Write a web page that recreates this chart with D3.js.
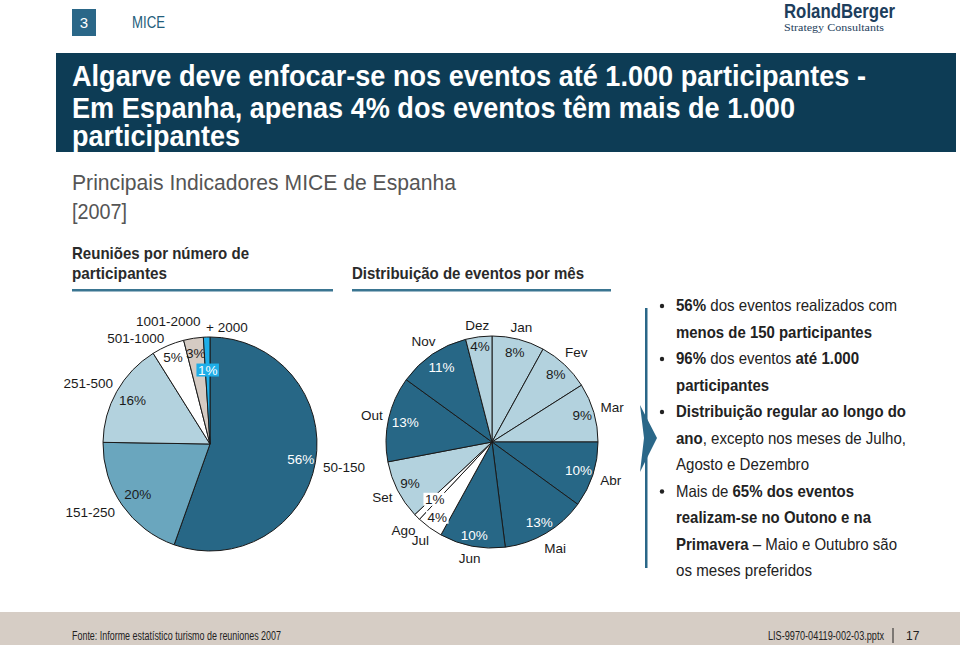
<!DOCTYPE html>
<html>
<head>
<meta charset="utf-8">
<script src="https://cdn.jsdelivr.net/npm/d3@7"></script>
<style>
  html, body { margin: 0; padding: 0; background: #fff; }
  svg { display: block; }
  text { font-family: "Liberation Sans Narrow", "Arial Narrow", "Liberation Sans", Arial, sans-serif; }
  .lbl { font-family: "Liberation Sans", Arial, sans-serif; font-size: 13.5px; fill: #1a1a1a; }
</style>
</head>
<body>
<svg id="chart" width="960" height="645"></svg>
<script>
// ---------- DATA ----------
const sizeCategories = ["50-150", "151-250", "251-500", "501-1000", "1001-2000", "+ 2000"];
const sizeShares = [56, 20, 16, 5, 3, 1];
const sizeLabels = ["56%", "20%", "16%", "5%", "3%", "1%"];

const months = ["Jan", "Fev", "Mar", "Abr", "Mai", "Jun", "Jul", "Ago", "Set", "Out", "Nov", "Dez"];
const monthShares = [8, 8, 9, 10, 13, 10, 4, 1, 9, 13, 11, 4];
const monthLabels = ["8%", "8%", "9%", "10%", "13%", "10%", "4%", "1%", "9%", "13%", "11%", "4%"];

const bullets = [
  [[["56%", true], [" dos eventos realizados com", false]], [["menos de 150 participantes", true]]],
  [[["96%", true], [" dos eventos ", false], ["até 1.000", true]], [["participantes", true]]],
  [[["Distribuição regular ao longo do", true]], [["ano", true], [", excepto nos meses de Julho,", false]], [["Agosto e Dezembro", false]]],
  [[["Mais de ", false], ["65% dos eventos", true]], [["realizam-se no Outono e na", true]], [["Primavera", true], [" – Maio e Outubro são", false]], [["os meses preferidos", false]]]
];

// ---------- STYLE / LAYOUT ----------
const C = {
  navy: "#0d3c55", teal: "#276786", mid: "#6aa6be", light: "#b3d2de",
  beige: "#d5cbc3", bright: "#1eaee8", white: "#ffffff", stroke: "#1a1a1a"
};
const sizeFill = [C.teal, C.mid, C.light, C.white, C.beige, C.bright];
const sizeTextFill = ["#fff", "#1a1a1a", "#1a1a1a", "#1a1a1a", "#1a1a1a", "#fff"];
const monthFill = [C.light, C.light, C.light, C.teal, C.teal, C.teal, C.white, C.white, C.light, C.teal, C.teal, C.light];

const svg = d3.select("#chart");

// ---------- HEADER ----------
svg.append("rect").attr("x", 72).attr("y", 9).attr("width", 24).attr("height", 27).attr("fill", "#2a6788");
svg.append("text").attr("x", 84).attr("y", 28).attr("text-anchor", "middle")
  .attr("font-size", 15).attr("fill", "#fff").text("3");
svg.append("text").attr("x", 132).attr("y", 28).attr("font-size", 16).attr("fill", "#235d7b")
  .attr("textLength", 33).attr("lengthAdjust", "spacingAndGlyphs").text("MICE");

svg.append("text").attr("x", 784).attr("y", 18).attr("font-size", 20).attr("font-weight", "bold")
  .attr("fill", "#1d3e5c").attr("textLength", 111).attr("lengthAdjust", "spacingAndGlyphs").text("RolandBerger");
svg.append("text").attr("x", 784).attr("y", 31).attr("font-size", 10.5)
  .style("font-family", "'Liberation Serif', 'DejaVu Serif', serif")
  .attr("fill", "#1d3e5c").attr("textLength", 100).attr("lengthAdjust", "spacingAndGlyphs").text("Strategy Consultants");

svg.append("rect").attr("x", 56).attr("y", 53).attr("width", 900).attr("height", 99).attr("fill", C.navy);
const titleLines = [
  ["Algarve deve enfocar-se nos eventos até 1.000 participantes -", 86, 794],
  ["Em Espanha, apenas 4% dos eventos têm mais de 1.000", 118, 723],
  ["participantes", 146, 168]
];
titleLines.forEach(([t, y, w]) => {
  svg.append("text").attr("x", 72).attr("y", y).attr("font-size", 30).attr("font-weight", "bold")
    .attr("fill", "#fff").attr("textLength", w).attr("lengthAdjust", "spacingAndGlyphs").text(t);
});

svg.append("text").attr("x", 72).attr("y", 190).attr("font-size", 22).attr("fill", "#555")
  .attr("textLength", 384).attr("lengthAdjust", "spacingAndGlyphs").text("Principais Indicadores MICE de Espanha");
svg.append("text").attr("x", 72).attr("y", 219).attr("font-size", 22).attr("fill", "#555")
  .attr("textLength", 55).attr("lengthAdjust", "spacingAndGlyphs").text("[2007]");

// section headers
const hdr = (x, y, t, w) => svg.append("text").attr("x", x).attr("y", y).attr("font-size", 17)
  .attr("font-weight", "bold").attr("fill", "#2a2a2a").attr("textLength", w)
  .attr("lengthAdjust", "spacingAndGlyphs").text(t);
hdr(72, 259, "Reuniões por número de", 177);
hdr(72, 279, "participantes", 95);
hdr(352, 279, "Distribuição de eventos por mês", 232);
svg.append("rect").attr("x", 72).attr("y", 289).attr("width", 261).attr("height", 2.5).attr("fill", "#3a7591");
svg.append("rect").attr("x", 352).attr("y", 289).attr("width", 259).attr("height", 2.5).attr("fill", "#3a7591");

// ---------- PIE HELPERS ----------
const toRad = d => d * Math.PI / 180;
const pol = (cx, cy, r, a) => [cx + r * Math.sin(a), cy - r * Math.cos(a)];
const pieGen = d3.pie().sort(null).value(d => d);

function labelBox(g, x, y, txt, fill, color) {
  const t = g.append("text").attr("class", "lbl").attr("x", x).attr("y", y)
    .attr("text-anchor", "middle").attr("dominant-baseline", "central").text(txt);
  const bb = t.node().getBBox();
  g.insert("rect", "text:last-of-type").attr("x", bb.x - 1.5).attr("y", bb.y + 1).attr("width", bb.width + 3)
    .attr("height", bb.height - 2).attr("fill", fill);
  t.style("fill", color).raise();
}

// ---------- PIE 1 ----------
{
  const cx = 210, cy = 444, r = 107;
  const g = svg.append("g");
  const arcs = pieGen(sizeShares);
  const arc = d3.arc().innerRadius(0).outerRadius(r);
  g.selectAll("path.s1").data(arcs).enter().append("path")
    .attr("transform", `translate(${cx},${cy})`)
    .attr("d", arc).attr("fill", (d, i) => sizeFill[i]).attr("stroke", C.stroke).attr("stroke-width", 1);

  const outR = [136, 138, 136, 129, 129, 118];
  const outDA = [0, 5, -3, -12, -10, 10];
  const inR = [92, 88, 89, 94, 92, 74];
  arcs.forEach((d, i) => {
    const mid = (d.startAngle + d.endAngle) / 2;
    const [ox, oy] = pol(cx, cy, outR[i], mid + toRad(outDA[i]));
    g.append("text").attr("class", "lbl").attr("x", ox).attr("y", oy)
      .attr("text-anchor", "middle").attr("dominant-baseline", "central").text(sizeCategories[i]);
    const [ix, iy] = pol(cx, cy, inR[i], mid);
    if (i === 5) {
      labelBox(g, ix, iy, sizeLabels[i], C.bright, "#fff");
    } else {
      g.append("text").attr("class", "lbl").attr("x", ix).attr("y", iy)
        .attr("text-anchor", "middle").attr("dominant-baseline", "central")
        .style("fill", sizeTextFill[i]).text(sizeLabels[i]);
    }
  });
}

// ---------- PIE 2 ----------
{
  const cx = 492, cy = 442, r = 106;
  const g = svg.append("g");
  const arcs = pieGen(monthShares);
  const arc = d3.arc().innerRadius(0).outerRadius(r);
  g.selectAll("path.s2").data(arcs).enter().append("path")
    .attr("transform", `translate(${cx},${cy})`)
    .attr("d", arc).attr("fill", (d, i) => monthFill[i]).attr("stroke", C.stroke).attr("stroke-width", 1);

  const outR = [118, 123, 125, 125, 124, 119, 122, 125, 123, 123, 122, 117];
  const inR = [92, 93, 94, 91, 93, 95, 93, 81, 92, 89, 90, 96];
  arcs.forEach((d, i) => {
    const mid = (d.startAngle + d.endAngle) / 2;
    const [ox, oy] = pol(cx, cy, outR[i], mid);
    g.append("text").attr("class", "lbl").attr("x", ox).attr("y", oy)
      .attr("text-anchor", "middle").attr("dominant-baseline", "central").text(months[i]);
    const [ix, iy] = pol(cx, cy, inR[i], mid);
    if (monthFill[i] === C.white) {
      labelBox(g, ix, iy, monthLabels[i], "#fff", "#1a1a1a");
    } else {
      g.append("text").attr("class", "lbl").attr("x", ix).attr("y", iy)
        .attr("text-anchor", "middle").attr("dominant-baseline", "central")
        .style("fill", monthFill[i] === C.teal ? "#fff" : "#1a1a1a").text(monthLabels[i]);
    }
  });
}

// ---------- RIGHT PANEL ----------
svg.append("rect").attr("x", 645).attr("y", 308).attr("width", 2.5).attr("height", 260).attr("fill", "#2a6788");
svg.append("path").attr("d", "M640,405 L657,438 L640,472 L644,438 Z").attr("fill", "#2a6788");

const lineWidths = [221, 196, 183, 93, 230, 230, 133, 178, 195, 221, 136];
let li = 0;
const y0 = 311, lh = 26.5;
bullets.forEach(b => {
  b.forEach((line, k) => {
    const y = y0 + li * lh;
    if (k === 0) {
      svg.append("circle").attr("cx", 662).attr("cy", y - 5).attr("r", 2.2).attr("fill", "#222");
    }
    const t = svg.append("text").attr("x", 676).attr("y", y).attr("font-size", 16.5).attr("fill", "#222")
      .attr("textLength", lineWidths[li]).attr("lengthAdjust", "spacingAndGlyphs");
    line.forEach(([s, bold]) => {
      t.append("tspan").attr("font-weight", bold ? "bold" : "normal").text(s);
    });
    li++;
  });
});

// ---------- FOOTER ----------
svg.append("rect").attr("x", 0).attr("y", 612).attr("width", 960).attr("height", 33).attr("fill", "#d6cdc5");
svg.append("text").attr("x", 72).attr("y", 640).attr("font-size", 12).attr("fill", "#222")
  .attr("textLength", 209).attr("lengthAdjust", "spacingAndGlyphs").text("Fonte: Informe estatístico turismo de reuniones 2007");
svg.append("text").attr("x", 768).attr("y", 640).attr("font-size", 12).attr("fill", "#222")
  .attr("textLength", 116).attr("lengthAdjust", "spacingAndGlyphs").text("LIS-9970-04119-002-03.pptx");
svg.append("rect").attr("x", 892.5).attr("y", 628).attr("width", 1).attr("height", 15).attr("fill", "#222");
svg.append("text").attr("x", 906).attr("y", 640).attr("font-size", 12).attr("fill", "#222").text("17");
</script>
</body>
</html>
